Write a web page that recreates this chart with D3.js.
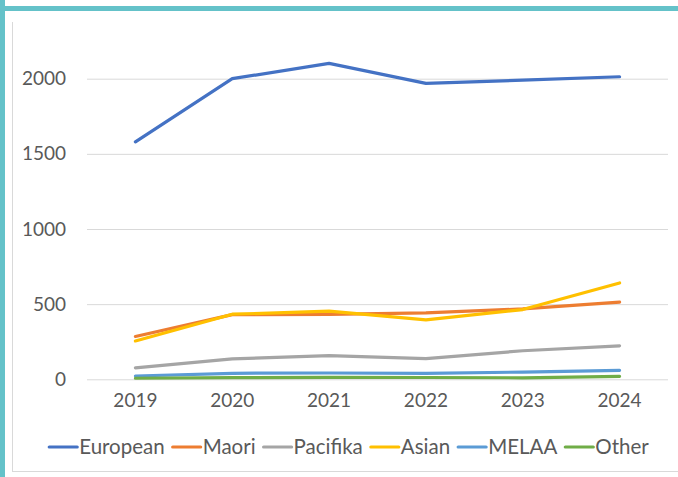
<!DOCTYPE html>
<html><head><meta charset="utf-8">
<script src="https://cdn.jsdelivr.net/npm/d3@7"></script>
<style>body{margin:0;background:#fff}svg{display:block}</style>
</head><body>
<svg id="c" width="678" height="477"></svg>
<script>
const years = ["2019","2020","2021","2022","2023","2024"];
const seriesNames = ["European","Maori","Pacifika","Asian","MELAA","Other"];
const european = [1580, 2000, 2102, 1969, 1990, 2013];
const maori    = [285, 430, 432, 442, 468, 513];
const pacifika = [76, 136, 158, 138, 190, 223];
const asian    = [255, 433, 453, 395, 464, 641];
const melaa    = [22, 40, 42, 40, 48, 60];
const other    = [7, 11, 13, 12, 10, 20];
const yTicks = [0, 500, 1000, 1500, 2000];
const colors = ["#4472C4","#ED7D31","#A5A5A5","#FFC000","#5B9BD5","#70AD47"];
const values = [european, maori, pacifika, asian, melaa, other];

const svg = d3.select("#c");
const font = "Lato, 'Open Sans', sans-serif";

// frame
svg.append("line").attr("x1",12.5).attr("x2",12.5).attr("y1",22).attr("y2",472).attr("stroke","#D9D9D9");
svg.append("line").attr("x1",12).attr("x2",678).attr("y1",471.5).attr("y2",471.5).attr("stroke","#D9D9D9");
svg.append("rect").attr("x",0).attr("y",0).attr("width",5).attr("height",477).attr("fill","#64C2C9");
svg.append("rect").attr("x",0).attr("y",6).attr("width",678).attr("height",5).attr("fill","#64C2C9");

const x = d3.scaleBand().domain(years).range([87, 668]);
const y = d3.scaleLinear().domain([0, 2000]).range([379.3, 78.7]);

// gridlines
const yAxis = d3.axisLeft(y).tickValues(yTicks).tickSize(-(668-87)).tickFormat(d3.format("d"));
const gy = svg.append("g").attr("transform","translate(87,0)").call(yAxis);
gy.select(".domain").remove();
gy.selectAll(".tick line").attr("stroke","#D9D9D9").attr("stroke-width",1);
gy.selectAll(".tick text").attr("x",-21).attr("fill","#595959")
  .style("font-family",font).style("font-size","19px");

const xAxis = d3.axisBottom(x).tickSize(0);
const gx = svg.append("g").attr("transform","translate(0,379.3)").call(xAxis);
gx.select(".domain").remove();
gx.selectAll(".tick text").attr("y",22).attr("dy","0.32em").attr("fill","#595959")
  .style("font-family",font).style("font-size","19px");

const line = d3.line().x((d,i)=>x(years[i])+x.bandwidth()/2).y(d=>y(d));
values.forEach((v,k)=>{
  svg.append("path").attr("d", line(v)).attr("fill","none")
    .attr("stroke",colors[k]).attr("stroke-width",3.2)
    .attr("stroke-linejoin","round").attr("stroke-linecap","round");
});

// legend
const lg = svg.append("g");
let cx = 0;
seriesNames.forEach((n,k)=>{
  const g = lg.append("g");
  g.append("line").attr("x1",0).attr("x2",28).attr("y1",0).attr("y2",0)
    .attr("stroke",colors[k]).attr("stroke-width",3.2).attr("stroke-linecap","round");
  const t = g.append("text").attr("x",30).attr("y",0).attr("dy","0.35em")
    .attr("fill","#595959").style("font-family",font).style("font-size","20.5px").text(n);
  const w = 30 + t.node().getComputedTextLength();
  g.attr("transform",`translate(${cx},447)`);
  cx += w + 8;
});
const total = cx - 8;
lg.attr("transform",`translate(${(54+644)/2 - total/2},0)`);
</script>
</body></html>
